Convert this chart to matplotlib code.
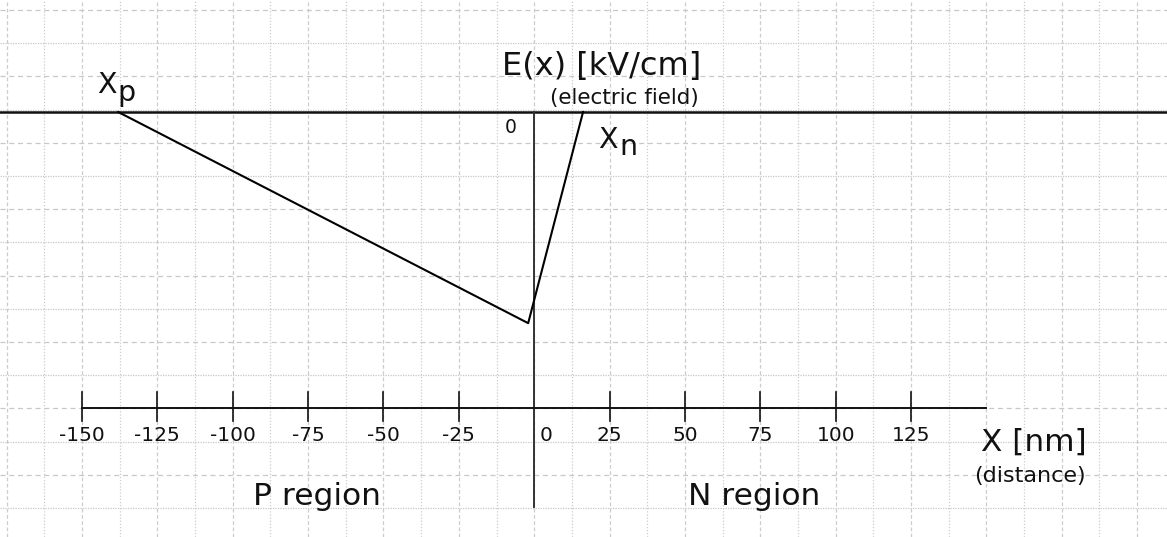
import numpy as np
import matplotlib
matplotlib.use('Agg')
import matplotlib.pyplot as plt

plt.rcParams['font.family'] = ['DejaVu Sans']

# electric field profile (x in nm, E in grid units, 0 at the top line)
x_nm = [-138, -2, 16.2]
e_field = [0, -6.36, 0]

tick_vals = [-150, -125, -100, -75, -50, -25, 0, 25, 50, 75, 100, 125]
tick_labels = ['-150', '-125', '-100', '-75', '-50', '-25', '0', '25', '50', '75', '100', '125']

axis_x_min, axis_x_max = -150, 150
dist_axis_y = -8.916
zero_axis_bottom = -11.9

fig = plt.figure(figsize=(11.67, 5.37), dpi=100)
ax = fig.add_axes([0, 0, 1, 1])
ax.set_xlim(-177.2, 209.9)
ax.set_ylim(-12.80, 3.373)
ax.axis('off')

txt = '#111111'

# grid paper
for k in range(16):
    yy = 3.072 - k
    ls = (0, (4, 3)) if k % 2 == 0 else (0, (1, 1))
    ax.axhline(yy, color='#c8c8c8', lw=0.9, ls=ls, zorder=0)
for j in range(-14, 17):
    ls = (0, (3, 2)) if j % 2 == 0 else (0, (1, 1.5))
    ax.axvline(12.5 * j, color='#cccccc', lw=0.9, ls=ls, zorder=0)

# E = 0 line and vertical axis
ax.axhline(0, color='#111111', lw=1.8, zorder=2)
ax.plot([0, 0], [0, zero_axis_bottom], color='#333333', lw=1.4, zorder=2)

# distance axis with ticks
ax.plot([axis_x_min, axis_x_max], [dist_axis_y, dist_axis_y], color='#111111', lw=1.4, zorder=2)
for t, lab in zip(tick_vals, tick_labels):
    if t != 0:
        ax.plot([t, t], [-8.434, -9.307], color='#111111', lw=1.2, zorder=2)
    xpos = 3.9 if t == 0 else t
    ax.text(xpos, -9.744, lab, ha='center', va='center', fontsize=14.5, color=txt)

# field line
ax.plot(x_nm, e_field, color='black', lw=1.5, zorder=3)

ax.text(22.5, 1.114, 'E(x) [kV/cm]', ha='center', va='baseline', fontsize=23, color=txt)
ax.text(30.0, 0.42, '(electric field)', ha='center', va='center', fontsize=15.5, color=txt)
ax.text(-145.0, 0.572, 'X', ha='left', va='baseline', fontsize=20.5, color=txt)
ax.text(-138.4, 0.331, 'p', ha='left', va='baseline', fontsize=20.5, color=txt)
ax.text(21.2, -1.084, 'X', ha='left', va='baseline', fontsize=20.5, color=txt)
ax.text(28.1, -1.295, 'n', ha='left', va='baseline', fontsize=20.5, color=txt)
ax.text(-7.7, -0.452, '0', ha='center', va='center', fontsize=13.5, color=txt)
ax.text(165.8, -10.21, 'X [nm]', ha='center', va='baseline', fontsize=22.5, color=txt)
ax.text(164.5, -10.95, '(distance)', ha='center', va='center', fontsize=16, color=txt)
ax.text(-72.1, -11.84, 'P region', ha='center', va='baseline', fontsize=22.5, color=txt)
ax.text(72.9, -11.84, 'N region', ha='center', va='baseline', fontsize=22.5, color=txt)

fig.savefig('out.png', dpi=100, facecolor='white')
